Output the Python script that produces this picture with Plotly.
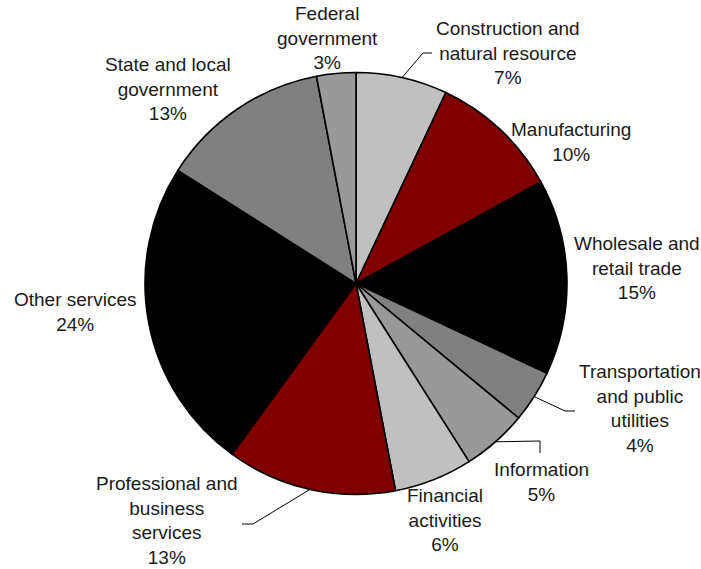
import math
import plotly.graph_objects as go

# Employment shares by industry (percent), clockwise from 12 o'clock
industries = [
    "Construction and<br>natural resource",
    "Manufacturing",
    "Wholesale and<br>retail trade",
    "Transportation<br>and public<br>utilities",
    "Information",
    "Financial<br>activities",
    "Professional and<br>business<br>services",
    "Other services",
    "State and local<br>government",
    "Federal<br>government",
]
shares = [7, 10, 15, 4, 5, 6, 13, 24, 13, 3]
colors = ["#C0C0C0", "#800000", "#000000", "#808080", "#999999",
          "#C0C0C0", "#800000", "#000000", "#808080", "#999999"]

W, H = 701, 569
CX, CY, R = 356, 283.5, 211  # pie centre and radius in pixels

# Label block centres (pixels) and leader-line elbows (None = no leader)
label_pos = [(508, 53), (571, 142), (637, 268), (640, 408), (541, 482),
             (445, 520), (167, 520), (75, 312), (168, 89), (327, 38)]
leader_elbow = [[(423, 53), (432, 53)], None, None,
                [(565, 411), (575, 411)], [(540, 441), (540, 453)],
                None, [(253, 524), (242, 524)], None, None, None]

fig = go.Figure()
fig.add_trace(go.Pie(
    labels=[l.replace("<br>", " ") for l in industries],
    values=shares,
    sort=False,
    direction="clockwise",
    rotation=0,
    marker=dict(colors=colors, line=dict(color="#000000", width=1.6)),
    textinfo="none",
    hoverinfo="label+percent",
    showlegend=False,
    domain=dict(x=[(CX - R) / W, (CX + R) / W],
                y=[(H - CY - R) / H, (H - CY + R) / H]),
))

# pixel-space overlay for labels and leaders
fig.update_layout(
    xaxis=dict(range=[0, W], visible=False, fixedrange=True),
    yaxis=dict(range=[H, 0], visible=False, fixedrange=True),
)

total = sum(shares)
cum = 0
shapes = []
annotations = []
for name, v, (lx, ly), elbow in zip(industries, shares, label_pos, leader_elbow):
    mid = (cum + v / 2) / total * 2 * math.pi
    cum += v
    annotations.append(dict(
        x=lx, y=ly, xref="x", yref="y",
        text=f"{name}<br>{round(v / total * 100)}%",
        showarrow=False, xanchor="center", yanchor="middle", align="center",
        font=dict(family="Liberation Sans, Arial, sans-serif", size=19, color="#1a1a1a"),
    ))
    if elbow:
        px = CX + R * math.sin(mid)
        py = CY - R * math.cos(mid)
        pts = [(px, py)] + elbow
        path = "M " + " L ".join(f"{x:.1f},{y:.1f}" for x, y in pts)
        shapes.append(dict(type="path", path=path, xref="x", yref="y",
                           line=dict(color="#000000", width=1)))

fig.update_layout(
    width=W, height=H,
    margin=dict(l=0, r=0, t=0, b=0),
    paper_bgcolor="white", plot_bgcolor="rgba(0,0,0,0)",
    annotations=annotations, shapes=shapes,
)

fig.write_html("out.html")
